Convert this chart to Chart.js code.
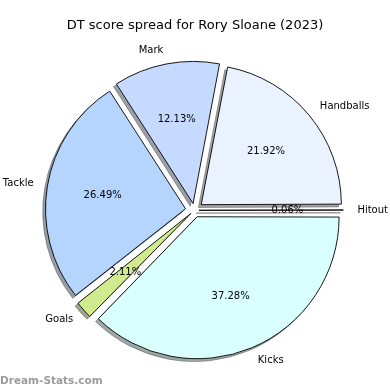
<!DOCTYPE html>
<html><head><meta charset="utf-8">
<script src="https://cdn.jsdelivr.net/npm/chart.js@4/dist/chart.umd.min.js"></script>
<style>html,body{margin:0;padding:0;background:#fff}#w{width:390px;height:390px;position:relative}</style>
</head><body><div id="w"><canvas id="c"></canvas></div>
<script>
const chartTitle = 'DT score spread for Rory Sloane (2023)';
// listed clockwise starting at 3 o'clock
const categories = ['Kicks', 'Goals', 'Tackle', 'Mark', 'Handballs', 'Hitout'];
const scores = [636, 36, 452, 207, 374, 1];
const colors = ['#d9ffff', '#d0eb8d', '#b5d5ff', '#c6d9ff', '#eaf2ff', '#ffe4c4'];
const watermark = 'Dream-Stats.com';

const EXPLODE = 9, RADIUS = 140, FONT = 'DejaVu Sans';
const total = scores.reduce((a, b) => a + b, 0);

function offsetFor(ctx) {
  const circ = scores[ctx.dataIndex] / total * 2 * Math.PI;
  const fix = 1 - Math.sin(Math.min(Math.PI, circ));
  return 4 * EXPLODE / (1 + fix);
}
function hexRgb(h) { h = h.replace('#', ''); return [0, 2, 4].map(i => parseInt(h.substr(i, 2), 16)); }

const shadowPlugin = {
  id: 'shadowPlugin',
  beforeDatasetsDraw(chart) {
    const ctx = chart.ctx;
    const meta = chart.getDatasetMeta(0);
    meta.data.forEach((el, i) => {
      const o = el.options;
      const c = hexRgb(colors[i]).map(v => Math.round(v * 0.3));
      const col = `rgba(${c[0]},${c[1]},${c[2]},0.5)`;
      el.options = Object.assign({}, o, { backgroundColor: col, borderColor: col });
      ctx.save();
      ctx.translate(-2.8, 2.8);
      el.draw(ctx);
      ctx.restore();
      el.options = o;
    });
  }
};

const labelPlugin = {
  id: 'labelPlugin',
  afterDatasetsDraw(chart) {
    const ctx = chart.ctx;
    const meta = chart.getDatasetMeta(0);
    ctx.save();
    ctx.fillStyle = '#000';
    ctx.font = '10px ' + FONT;
    ctx.textBaseline = 'middle';
    meta.data.forEach((el, i) => {
      const mid = (el.startAngle + el.endAngle) / 2;
      const cx = el.x + Math.cos(mid) * EXPLODE;
      const cy = el.y + Math.sin(mid) * EXPLODE;
      const r = el.outerRadius;
      const lx = cx + Math.cos(mid) * r * 1.1, ly = cy + Math.sin(mid) * r * 1.1;
      ctx.textAlign = Math.cos(mid) > 0 ? 'left' : 'right';
      ctx.fillText(categories[i], lx, ly);
      const px = cx + Math.cos(mid) * r * 0.6, py = cy + Math.sin(mid) * r * 0.6;
      ctx.textAlign = 'center';
      ctx.fillText((scores[i] / total * 100).toFixed(2) + '%', px, py);
    });
    ctx.font = '13px ' + FONT;
    ctx.textAlign = 'center';
    ctx.fillText(chartTitle, 195, 25.5);
    ctx.font = 'bold 10.5px ' + FONT;
    ctx.fillStyle = 'rgba(130,130,130,0.8)';
    ctx.textAlign = 'left';
    ctx.textBaseline = 'alphabetic';
    ctx.fillText(watermark, 0, 384);
    ctx.restore();
  }
};

new Chart(document.getElementById('c'), {
  type: 'pie',
  data: {
    labels: categories,
    datasets: [{
      data: scores,
      backgroundColor: colors,
      borderColor: '#000',
      borderWidth: 0.9,
      offset: offsetFor,
      radius: RADIUS,
      rotation: 90
    }]
  },
  options: {
    responsive: true,
    maintainAspectRatio: false,
    animation: false,
    layout: { padding: { left: 0, right: 1.2, top: 30.6, bottom: 0 } },
    plugins: { legend: { display: false }, tooltip: { enabled: false }, title: { display: false } }
  },
  plugins: [shadowPlugin, labelPlugin]
});
</script>
</body></html>
